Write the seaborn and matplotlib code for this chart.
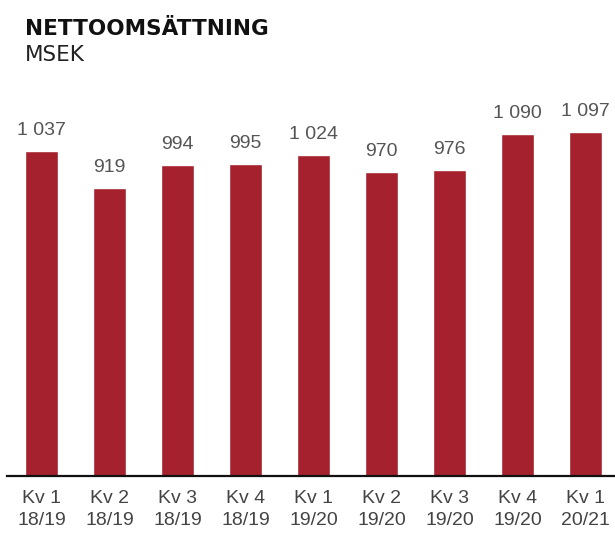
import matplotlib
matplotlib.use("Agg")
import matplotlib.pyplot as plt
import seaborn as sns
import pandas as pd

quarters = ["Kv 1", "Kv 2", "Kv 3", "Kv 4", "Kv 1", "Kv 2", "Kv 3", "Kv 4", "Kv 1"]
years = ["18/19", "18/19", "18/19", "18/19", "19/20", "19/20", "19/20", "19/20", "20/21"]
values = [1037, 919, 994, 995, 1024, 970, 976, 1090, 1097]
title = "NETTOOMSÄTTNING"
subtitle = "MSEK"

sns.set_theme(style="white")
plt.rcParams["font.family"] = ["Liberation Sans", "DejaVu Sans"]

labels = [f"{q}\n{y}" for q, y in zip(quarters, years)]
df = pd.DataFrame({"label": labels, "value": values})

fig = plt.figure(figsize=(6.15, 5.35), dpi=100)
ax = fig.add_axes([7 / 615, 59 / 535, 608 / 615, 376 / 535])

sns.barplot(data=df, x="label", y="value", color="#A4212D", saturation=1,
            width=0.485, ax=ax, order=labels)

ax.set_xlim(-0.507, 8.434)
ax.set_ylim(0, 1200)
for s in ["top", "right", "left"]:
    ax.spines[s].set_visible(False)
ax.spines["bottom"].set_color("#111111")
ax.spines["bottom"].set_linewidth(1.6)
ax.set_yticks([])
ax.set_xlabel("")
ax.set_ylabel("")
ax.tick_params(axis="x", length=0, pad=10, labelsize=14, labelcolor="#444444")
for t in ax.get_xticklabels():
    t.set_linespacing(1.4)

for i, v in enumerate(values):
    txt = f"{v:,}".replace(",", " ")
    ax.annotate(txt, (i, v), xytext=(0, 11.5), textcoords="offset points",
                ha="center", va="baseline", fontsize=14, color="#555555")

fig.text(25 / 615, 1 - 35 / 535, title, fontsize=15.5, fontweight="bold",
         family="DejaVu Sans", color="#111111", va="baseline", ha="left")
fig.text(25 / 615, 1 - 61 / 535, subtitle, fontsize=15.5,
         family="DejaVu Sans", color="#222222", va="baseline", ha="left")

fig.savefig("out.png", dpi=100)
